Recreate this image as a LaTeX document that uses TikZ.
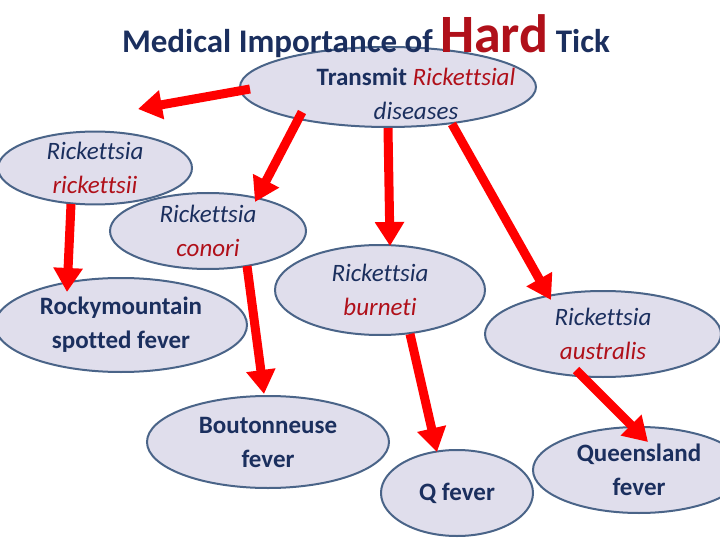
\documentclass[tikz,border=0pt]{standalone}
\usepackage{fontspec}
\setmainfont[Ligatures={NoCommon}]{Carlito}
\usetikzlibrary{arrows.meta,shapes.geometric}
\definecolor{navy}{HTML}{1B2F5E}
\definecolor{dred}{HTML}{B0101A}
\definecolor{efill}{HTML}{E0DEEC}
\definecolor{edge}{HTML}{4A6488}
\tikzset{
 ell/.style={ellipse,draw=edge,line width=2pt,fill=efill,inner sep=0pt,align=center,text=navy,font=\fontsize{25}{34}\selectfont},
 arr/.style={draw=red,line width=9pt,-{Triangle[length=24pt,width=28pt]}}
}
\begin{document}
\begin{tikzpicture}[x=1pt,y=-1pt]
\useasboundingbox (0,0) rectangle (720,540);
\node[ell,minimum width=296pt,minimum height=80pt] (top) at (388,87) {};
\node[text=navy,font=\fontsize{25}{34}\selectfont,align=center] (toptxt) at (416,94) {\textbf{Transmit} \textcolor{dred}{\itshape Rickettsial}\\ \itshape diseases};
\node[ell,minimum width=194pt,minimum height=72pt] (rr) at (95,168) {\itshape Rickettsia\\ \itshape\color{dred}rickettsii};
\node[ell,minimum width=196pt,minimum height=76pt] (rc) at (208,231) {\itshape Rickettsia\\ \itshape\color{dred}conori};
\node[ell,minimum width=210pt,minimum height=90pt] (rb) at (380,290) {\itshape Rickettsia\\ \itshape\color{dred}burneti};
\node[ell,minimum width=252pt,minimum height=94pt] (rm) at (121,325) {\bfseries Rockymountain\\ \bfseries spotted fever};
\node[ell,minimum width=236pt,minimum height=86pt] (ra) at (603,334) {\itshape Rickettsia\\ \itshape\color{dred}australis};
\node[ell,minimum width=242pt,minimum height=92pt] (bf) at (268,442) {\bfseries Boutonneuse\\ \bfseries fever};
\node[ell,minimum width=152pt,minimum height=86pt] (qf) at (457,493) {\bfseries Q fever};
\node[ell,minimum width=212pt,minimum height=86pt] (ql) at (639,470) {\bfseries Queensland\\ \bfseries fever};
\node[anchor=base,font=\bfseries\fontsize{33}{35}\selectfont,text=navy] (title) at (366,53) {Medical Importance of \textcolor{dred}{\fontsize{54}{54}\selectfont Hard} Tick};
\coordinate (a1s) at (250,89); \coordinate (a1e) at (138,109);
\coordinate (a2s) at (302,112); \coordinate (a2e) at (255,202);
\coordinate (a3s) at (388,128); \coordinate (a3e) at (390,246);
\coordinate (a4s) at (452,124); \coordinate (a4e) at (551,300);
\coordinate (a5s) at (71,204); \coordinate (a5e) at (67,292);
\coordinate (a6s) at (247,266); \coordinate (a6e) at (264,394);
\coordinate (a7s) at (410,334); \coordinate (a7e) at (437,452);
\coordinate (a8s) at (576,370); \coordinate (a8e) at (648,442);
\foreach \i in {1,...,8} \draw[arr] (a\i s) -- (a\i e);
\end{tikzpicture}
\end{document}
